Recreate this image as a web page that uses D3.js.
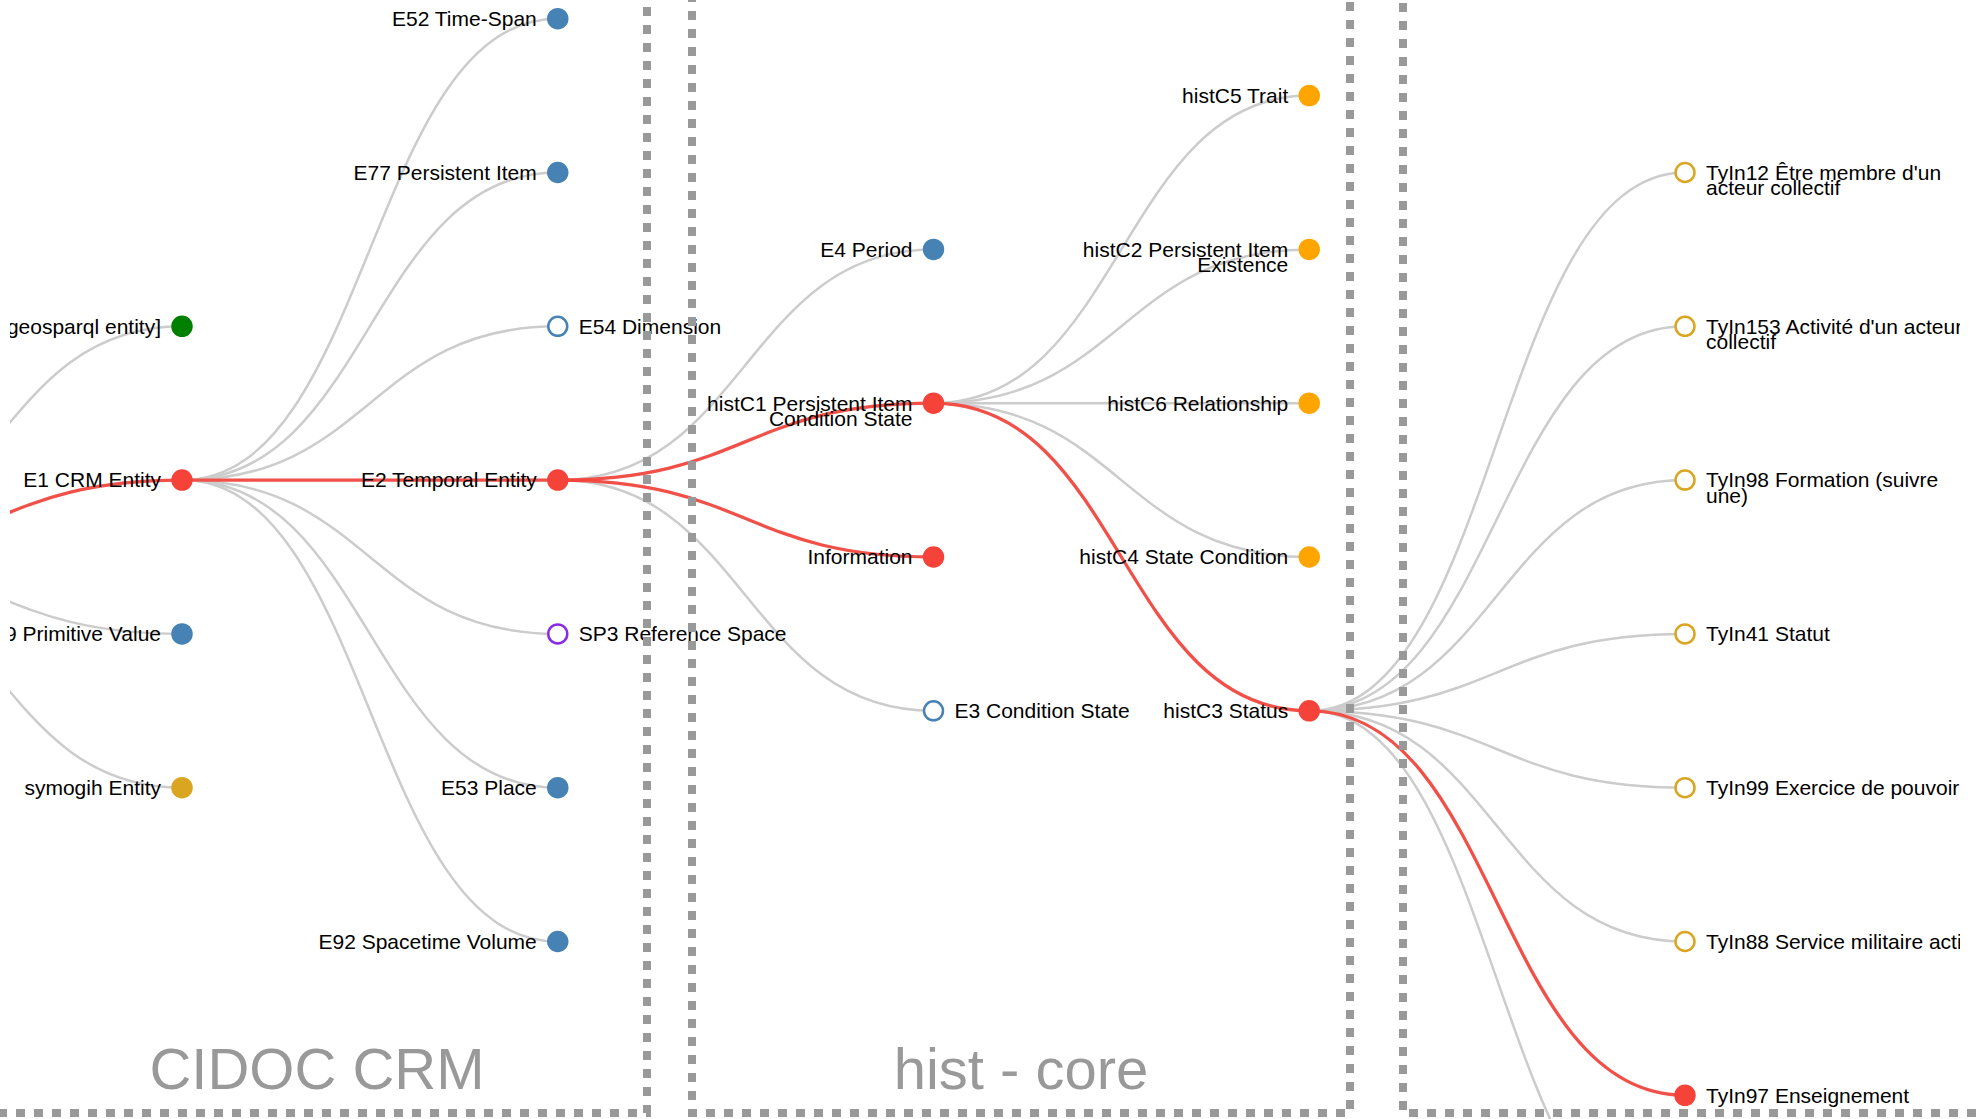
<!DOCTYPE html>
<html>
<head>
<meta charset="utf-8">
<script src="https://cdn.jsdelivr.net/npm/d3@7"></script>
<style>
  body { margin: 0; background: #fff; overflow: hidden; }
  text { font-family: "Liberation Sans", Arial, Helvetica, sans-serif; }
</style>
</head>
<body>
<svg id="chart" width="1982" height="1119"></svg>
<script>
// --- data: ontology tree (id, parent, label, ontology) ---
const nodeIds = ["Thing", "geo", "E1", "E59", "symogih",
  "E52", "E77", "E54", "E2", "SP3", "E53", "E92",
  "E4", "histC1", "Information", "E3",
  "histC5", "histC2", "histC6", "histC4", "histC3",
  "TyIn12", "TyIn153", "TyIn98", "TyIn41", "TyIn99", "TyIn88", "TyIn97", "TyIn10"];

const nodeParents = [null, "Thing", "Thing", "Thing", "Thing",
  "E1", "E1", "E1", "E1", "E1", "E1", "E1",
  "E2", "E2", "E2", "E2",
  "histC1", "histC1", "histC1", "histC1", "histC1",
  "histC3", "histC3", "histC3", "histC3", "histC3", "histC3", "histC3", "histC3"];

const nodeLabels = ["Thing", "[geosparql entity]", "E1 CRM Entity", "E59 Primitive Value", "symogih Entity",
  "E52 Time-Span", "E77 Persistent Item", "E54 Dimension", "E2 Temporal Entity", "SP3 Reference Space", "E53 Place", "E92 Spacetime Volume",
  "E4 Period", "histC1 Persistent Item\nCondition State", "Information", "E3 Condition State",
  "histC5 Trait", "histC2 Persistent Item\nExistence", "histC6 Relationship", "histC4 State Condition", "histC3 Status",
  "TyIn12 Être membre d'un\nacteur collectif", "TyIn153 Activité d'un acteur\ncollectif", "TyIn98 Formation (suivre\nune)",
  "TyIn41 Statut", "TyIn99 Exercice de pouvoir", "TyIn88 Service militaire actif", "TyIn97 Enseignement", "TyIn10 Fonction"];

const nodeOntology = ["owl", "geosparql", "crm", "crm", "symogih",
  "crm", "crm", "crm", "crm", "sp", "crm", "crm",
  "crm", "hist", "hist", "crm",
  "hist", "hist", "hist", "hist", "hist",
  "symogih", "symogih", "symogih", "symogih", "symogih", "symogih", "symogih", "symogih"];

// nodes whose children are collapsed (drawn filled)
const collapsedIds = ["geo", "E59", "symogih", "E52", "E77", "E53", "E92", "E4", "Information",
  "histC5", "histC2", "histC6", "histC4"];

// highlighted path (red)
const selectedIds = ["Thing", "E1", "E2", "histC1", "Information", "histC3", "TyIn97"];

// dashed frames, by ontology
const frameTitles = ["CIDOC CRM", "hist - core", ""];

// --- styles ---
const ontologyColor = {
  owl: "#4682b4", crm: "#4682b4", hist: "#ffa500", symogih: "#daa520",
  geosparql: "#008000", sp: "#8a2be2"
};
const red = "#f5433a";

const svg = d3.select("#chart");
const width = +svg.attr("width"), height = +svg.attr("height");

const rowStep = 153.8, colStep = 375.75;
const originX = -193.75, originY = 557;

const table = nodeIds.map((id, i) => ({
  id: id, parent: nodeParents[i], label: nodeLabels[i], onto: nodeOntology[i],
  collapsed: collapsedIds.includes(id), selected: selectedIds.includes(id)
}));

const root = d3.stratify().id(d => d.id).parentId(d => d.parent)(table);
d3.tree().nodeSize([rowStep, colStep])(root);

svg.append("defs").append("clipPath").attr("id", "treeclip")
  .append("rect").attr("x", 10).attr("y", 0).attr("width", 1950).attr("height", height);

const g = svg.append("g").attr("clip-path", "url(#treeclip)")
  .append("g").attr("transform", `translate(${originX},${originY})`);

const link = d3.linkHorizontal().x(d => d.y).y(d => d.x);

// links
g.selectAll(".link")
  .data(root.links())
  .enter().append("path")
  .attr("class", "link")
  .attr("d", link)
  .attr("fill", "none")
  .attr("stroke", "#ccc")
  .attr("stroke-width", 2.5);

g.selectAll(".hl")
  .data(root.links().filter(l => l.source.data.selected && l.target.data.selected))
  .enter().append("path")
  .attr("class", "hl")
  .attr("d", link)
  .attr("fill", "none")
  .attr("stroke", red)
  .attr("stroke-opacity", 0.9)
  .attr("stroke-width", 3.3);

// nodes
const node = g.selectAll(".node")
  .data(root.descendants())
  .enter().append("g")
  .attr("class", "node")
  .attr("transform", d => `translate(${d.y},${d.x})`);

const hasKids = d => d.children || d.data.collapsed;

node.append("circle")
  .attr("r", 9.5)
  .attr("stroke-width", 2.5)
  .attr("stroke", d => d.data.selected ? red : ontologyColor[d.data.onto])
  .attr("fill", d => d.data.selected ? red : (hasKids(d) ? ontologyColor[d.data.onto] : "#fff"));

const label = node.append("text")
  .attr("text-anchor", d => hasKids(d) ? "end" : "start")
  .attr("font-size", "21px")
  .attr("fill", "#000");

label.selectAll("tspan")
  .data(d => d.data.label.split("\n").map((t, i) => ({ t: t, i: i, left: hasKids(d) })))
  .enter().append("tspan")
  .attr("x", d => d.left ? -21 : 21)
  .attr("y", d => d.i * 15.5)
  .attr("dy", "0.35em")
  .text(d => d.t);

// dashed ontology frames
const frames = [
  { x0: -60, x1: 647 },
  { x0: 692, x1: 1350 },
  { x0: 1403, x1: 2120 }
];
const frameBottom = 1113;

svg.selectAll(".frame")
  .data(frames)
  .enter().append("rect")
  .attr("class", "frame")
  .attr("x", d => d.x0)
  .attr("y", -60)
  .attr("width", d => d.x1 - d.x0)
  .attr("height", frameBottom + 60)
  .attr("fill", "none")
  .attr("stroke", "#999")
  .attr("stroke-width", 8)
  .attr("stroke-dasharray", "9,9");

svg.selectAll(".ftitle")
  .data(frameTitles.map((t, i) => ({ t: t, f: frames[i] })))
  .enter().append("text")
  .attr("class", "ftitle")
  .attr("x", (d, i) => i === 0 ? 317 : (d.f.x0 + d.f.x1) / 2)
  .attr("y", 1089)
  .attr("text-anchor", "middle")
  .attr("font-size", "58px")
  .attr("fill", "#999")
  .text(d => d.t);
</script>
</body>
</html>
